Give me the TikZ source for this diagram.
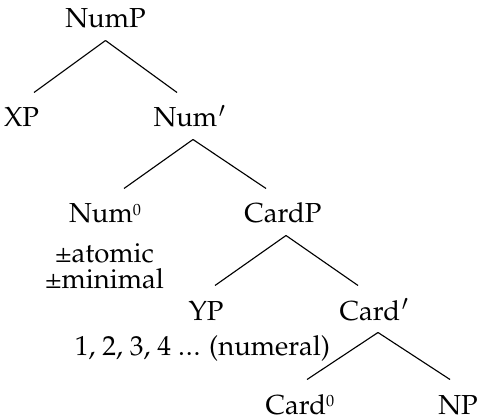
\documentclass[tikz,border=0pt]{standalone}
\usepackage[T1]{fontenc}
\usepackage{mathpazo}
\usepackage{tikz}

\tikzset{
  cat/.style={anchor=base, inner xsep=0pt, inner ysep=4.8pt, text height=8.8pt, text depth=0pt},
  note/.style={anchor=base, inner sep=0pt, align=center},
  branch/.style={line width=0.45pt}
}
\newcommand{\xbar}{\kern0.6pt$'$}
\newcommand{\xzero}{\raisebox{3pt}{\fontsize{6.5}{6.5}\selectfont 0}}

\begin{document}
\begin{tikzpicture}[x=0.4pt, y=0.4pt, font=\fontsize{11}{10.4}\selectfont]
                \useasboundingbox (0,0) rectangle (477,419);

                % NumP level
                \node[cat] (nump) at (105.5,391) {NumP};
                \node[cat] (xp) at (21.5,292) {XP};
                \node[cat] (numbar) at (190,292) {Num\xbar};
                \draw[branch] (nump.south) -- ([xshift=5pt]xp.north);
                \draw[branch] (nump.south) -- ([xshift=-5.2pt]numbar.north);

                % Num' level
                \node[cat] (numhead) at (105,196) {Num\xzero};
                \node[cat] (cardp) at (283,196) {CardP};
                \draw[branch] ([xshift=1.2pt]numbar.south) -- ([xshift=7.6pt]numhead.north);
                \draw[branch] ([xshift=1.2pt]numbar.south) -- ([xshift=-6.8pt]cardp.north);
                \node[note] (feats) at (104.5,131) {\textpm atomic\\\textpm minimal};

                % CardP level
                \node[cat] (yp) at (206,99) {YP};
                \node[cat] (cardbar) at (374.5,99) {Card\xbar};
                \draw[branch] ([xshift=1.2pt]cardp.south) -- ([xshift=3.6pt]yp.north);
                \draw[branch] ([xshift=1.2pt]cardp.south) -- ([xshift=-6.6pt]cardbar.north);
                \node[note] (numeral) at (202.5,64) {1, 2, 3, 4 .\kern0.4pt.\kern0.4pt. (numeral)};

                % Card' level
                \node[cat] (cardhead) at (300,5) {Card\xzero};
                \node[cat] (np) at (458,5) {NP};
                \draw[branch] ([xshift=1.4pt]cardbar.south) -- ([xshift=2.8pt]cardhead.north);
                \draw[branch] ([xshift=1.4pt]cardbar.south) -- ([xshift=-3.2pt]np.north);
            \end{tikzpicture}
\end{document}
